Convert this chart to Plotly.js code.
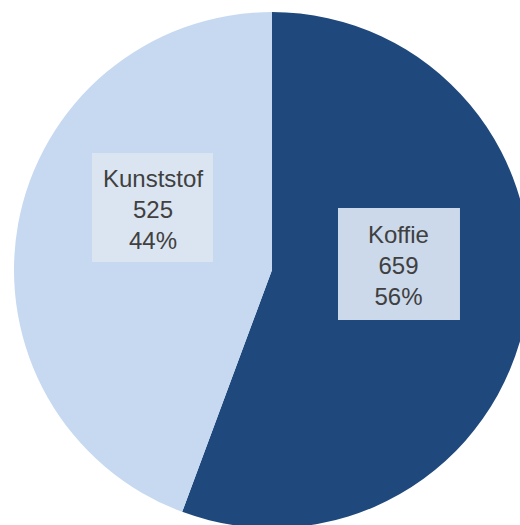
<!DOCTYPE html>
<html>
<head>
<meta charset="utf-8">
<script src="https://cdn.plot.ly/plotly-3.0.1.min.js"></script>
<style>
  html, body { margin: 0; padding: 0; background: #ffffff; overflow: hidden; width: 520px; height: 525px; }
  #chart { width: 530px; height: 528px; }
</style>
</head>
<body>
<div id="chart"></div>
<script>
const labels = ["Koffie", "Kunststof"];
const values = [659, 525];
const colors = ["#1F497D", "#C6D9F1"];

// label box positions (paper coords) and colours
const boxX = [[0.6279, 0.8643], [0.1512, 0.3857]];
const boxY = [[0.4031, 0.6202], [0.5155, 0.7267]];
const boxColors = ["#CBD9EB", "#DBE5F1"];

const total = values.reduce((a, b) => a + b, 0);

const trace = {
  type: "pie",
  labels: labels,
  values: values,
  marker: { colors: colors, line: { width: 0 } },
  sort: false,
  direction: "clockwise",
  rotation: 0,
  textinfo: "none",
  hoverinfo: "skip",
  showlegend: false
};

const shapes = labels.map((l, i) => ({
  type: "rect", xref: "paper", yref: "paper",
  x0: boxX[i][0], x1: boxX[i][1], y0: boxY[i][0], y1: boxY[i][1],
  fillcolor: boxColors[i], line: { width: 0 }, layer: "above"
}));

const annotations = labels.map((l, i) => ({
  xref: "paper", yref: "paper",
  x: (boxX[i][0] + boxX[i][1]) / 2,
  y: (boxY[i][0] + boxY[i][1]) / 2,
  yshift: -2,
  xanchor: "center", yanchor: "middle",
  showarrow: false,
  align: "center",
  text: l + "<br>" + values[i] + "<br>" + Math.round(100 * values[i] / total) + "%",
  font: { family: "Liberation Sans, Arial, sans-serif", size: 24, color: "#404040" }
}));

const layout = {
  width: 530,
  height: 528,
  margin: { l: 14, r: 0, t: 12, b: 0 },
  paper_bgcolor: "#ffffff",
  plot_bgcolor: "#ffffff",
  shapes: shapes,
  annotations: annotations,
  showlegend: false
};

Plotly.newPlot("chart", [trace], layout, { displayModeBar: false, staticPlot: true });
</script>
</body>
</html>
